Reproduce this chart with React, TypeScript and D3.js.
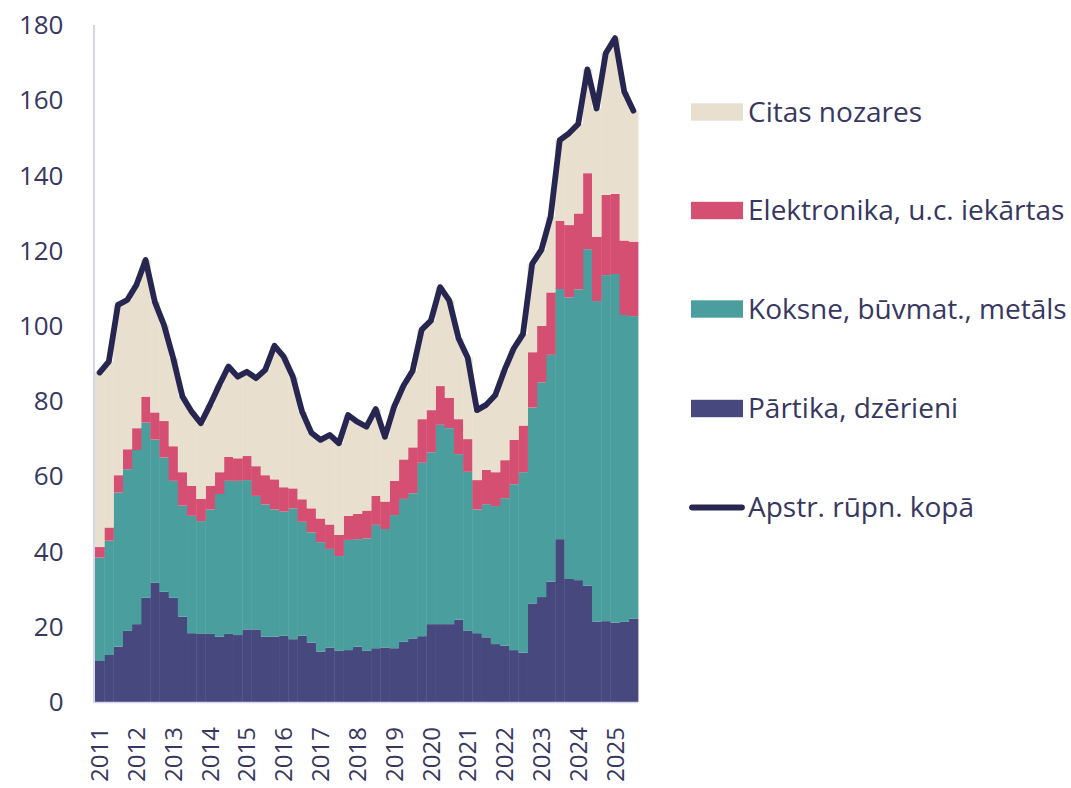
import React from "react";
import * as d3 from "d3";

const startYear = 2011;
const nQuarters = 59;
const categories: string[] = Array.from({ length: nQuarters }, (_, i) => `${startYear + Math.floor(i / 4)}Q${(i % 4) + 1}`);
const yTicks = [0, 20, 40, 60, 80, 100, 120, 140, 160, 180];

const partika = [
  10.9, 12.5, 14.7, 18.9, 20.7, 27.7, 31.7, 29.3, 27.7, 22.7,
  18.3, 18.1, 18.1, 17.4, 18.1, 17.8, 19.3, 19.3, 17.4, 17.4,
  17.6, 16.7, 17.6, 15.8, 13.4, 14.5, 13.6, 13.8, 14.7, 13.6,
  14.3, 14.5, 14.3, 16.0, 16.9, 17.5, 20.7, 20.7, 20.7, 21.9,
  18.9, 18.3, 17.2, 15.4, 15.0, 13.8, 13.1, 26.2, 27.9, 32.0,
  43.3, 32.7, 32.4, 30.9, 21.4, 21.5, 21.1, 21.3, 22.2,
];
const koksne = [
  27.5, 30.4, 41.0, 43.0, 46.3, 46.6, 38.1, 35.7, 31.1, 29.5,
  31.2, 30.0, 33.1, 37.9, 40.7, 41.0, 39.7, 35.5, 35.1, 33.8,
  33.0, 34.8, 30.3, 29.3, 29.1, 26.2, 25.2, 29.3, 28.6, 29.9,
  32.8, 31.5, 35.4, 38.0, 38.6, 46.1, 45.7, 53.0, 52.1, 44.0,
  42.3, 32.9, 35.4, 36.7, 39.2, 44.1, 48.0, 52.1, 57.1, 60.3,
  66.5, 74.9, 77.3, 89.5, 85.2, 92.0, 92.7, 81.6, 80.4,
];
const elektronika = [
  2.8, 3.5, 4.6, 5.3, 5.8, 6.9, 7.2, 9.7, 9.2, 8.9,
  8.0, 5.9, 6.3, 5.8, 6.4, 6.0, 6.4, 7.9, 7.8, 8.0,
  6.5, 5.3, 6.0, 6.4, 6.3, 6.5, 5.6, 6.4, 6.7, 7.4,
  7.7, 7.3, 9.1, 10.5, 12.2, 11.6, 11.2, 10.3, 8.1, 9.3,
  8.7, 7.8, 9.1, 9.0, 10.1, 11.8, 12.4, 14.7, 15.0, 16.6,
  18.1, 19.2, 20.2, 20.2, 17.1, 21.3, 21.3, 19.8, 19.8,
];
const citas = [
  46.4, 44.1, 45.3, 39.7, 38.1, 36.3, 29.4, 25.5, 23.4, 20.1,
  19.7, 20.1, 21.5, 23.2, 24.0, 21.7, 22.4, 23.4, 28.0, 35.5,
  34.7, 29.7, 23.3, 20.1, 20.9, 23.8, 24.4, 26.8, 24.5, 22.3,
  23.1, 17.2, 19.7, 19.5, 20.3, 23.8, 23.8, 26.3, 25.8, 21.5,
  21.6, 18.6, 17.3, 20.5, 24.0, 24.3, 24.3, 23.5, 20.2, 20.1,
  21.5, 24.4, 23.8, 27.6, 34.1, 37.7, 41.4, 39.6, 34.8,
];
const kopa = [
  87.6, 90.5, 105.6, 106.9, 110.9, 117.5, 106.4, 100.2, 91.4, 81.2,
  77.2, 74.1, 79.0, 84.3, 89.2, 86.5, 87.8, 86.1, 88.3, 94.7,
  91.8, 86.5, 77.2, 71.6, 69.7, 71.0, 68.8, 76.3, 74.5, 73.2,
  77.9, 70.5, 78.5, 84.0, 88.0, 99.0, 101.4, 110.3, 106.7, 96.7,
  91.5, 77.6, 79.0, 81.6, 88.3, 94.0, 97.8, 116.5, 120.2, 129.0,
  149.4, 151.2, 153.7, 168.2, 157.8, 172.5, 176.5, 162.3, 157.2,
];

const seriesKeys = ["partika", "koksne", "elektronika", "citas"];
const seriesNames: Record<string, string> = {
  partika: "Pārtika, dzērieni",
  koksne: "Koksne, būvmat., metāls",
  elektronika: "Elektronika, u.c. iekārtas",
  citas: "Citas nozares",
};
const colors: Record<string, string> = {
  partika: "#46487E",
  koksne: "#4A9E9E",
  elektronika: "#D44F72",
  citas: "#E9DFCF",
};
const lineName = "Apstr. rūpn. kopā";
const lineColor = "#262651";
const textColor = "#37375F";
const axisColor = "#D3D6EC";
const font = "'Open Sans', sans-serif";

const W = 1071;
const H = 788;
const plotLeft = 95;
const plotRight = 638;
const plotTop = 25;
const plotBottom = 702;

export default function App() {
  const table = categories.map((c, i) => ({
    cat: c,
    partika: partika[i],
    koksne: koksne[i],
    elektronika: elektronika[i],
    citas: citas[i],
  }));
  const stacked = d3.stack<any>().keys(seriesKeys)(table);

  const x = d3.scaleBand<string>().domain(categories).range([plotLeft, plotRight]).padding(0);
  const y = d3.scaleLinear().domain([0, 180]).range([plotBottom, plotTop]);
  const bw = x.bandwidth();

  const line = d3
    .line<number>()
    .x((_, i) => (x(categories[i]) as number) + bw / 2)
    .y((d) => y(d));

  const legendItems = [
    { key: "citas", y: 112 },
    { key: "elektronika", y: 210.5 },
    { key: "koksne", y: 309 },
    { key: "partika", y: 408.5 },
  ];

  return (
    <svg
      width={W}
      height={H}
      style={{ position: "absolute", left: 0, top: 0, display: "block", background: "#fff" }}
      fontFamily={font}
    >
      {stacked.map((layer) => (
        <g key={layer.key} fill={colors[layer.key]}>
          {layer.map((d, i) => (
            <rect
              key={i}
              x={x(categories[i]) as number}
              y={y(d[1])}
              width={bw + 0.4}
              height={Math.max(0, y(d[0]) - y(d[1]))}
            />
          ))}
        </g>
      ))}

      {/* axes */}
      <line x1={plotLeft - 1} x2={plotLeft - 1} y1={plotTop} y2={plotBottom + 1} stroke={axisColor} strokeWidth={2} />
      <line x1={plotLeft - 2} x2={plotRight} y1={plotBottom + 0.5} y2={plotBottom + 0.5} stroke={axisColor} strokeWidth={1.5} />

      <path
        d={line(kopa) || ""}
        fill="none"
        stroke={lineColor}
        strokeWidth={5.8}
        strokeLinejoin="round"
        strokeLinecap="round"
      />

      {yTicks.map((t) => (
        <text key={t} x={63.5} y={y(t)} dy="0.35em" textAnchor="end" fontSize={26} fill={textColor}>
          {t}
        </text>
      ))}

      {categories.map((c, i) =>
        i % 4 === 0 ? (
          <text
            key={c}
            transform={`translate(${(x(c) as number) + bw / 2},${727}) rotate(-90)`}
            dy="0.36em"
            textAnchor="end"
            fontSize={24}
            fill={textColor}
          >
            {c.slice(0, 4)}
          </text>
        ) : null
      )}

      {legendItems.map((it) => (
        <g key={it.key}>
          <rect x={691} y={it.y - 8.7} width={52} height={17.4} fill={colors[it.key]} />
          <text x={748} y={it.y} dy="0.35em" fontSize={28} fill={textColor}>
            {seriesNames[it.key]}
          </text>
        </g>
      ))}
      <g>
        <line x1={692} x2={742} y1={507.5} y2={507.5} stroke={lineColor} strokeWidth={5.8} strokeLinecap="round" />
        <text x={748} y={507.5} dy="0.35em" fontSize={28} fill={textColor}>
          {lineName}
        </text>
      </g>
    </svg>
  );
}
